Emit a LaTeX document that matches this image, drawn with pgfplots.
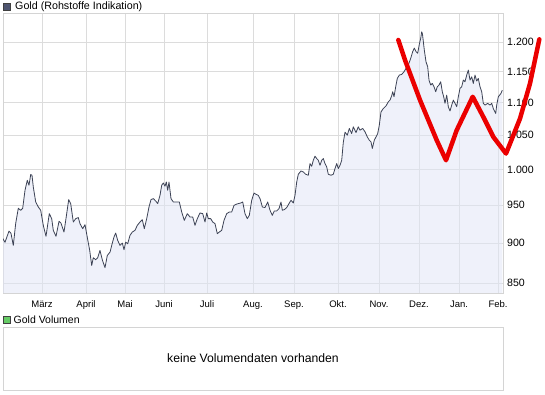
\documentclass[border=0pt]{standalone}
\usepackage{fontspec}
\setmainfont{Liberation Sans}
\usepackage{pgfplots}
\usepackage{pgfplotstable}
\pgfplotsset{compat=1.18}
\definecolor{gridc}{RGB}{220,220,220}
\definecolor{framec}{RGB}{212,212,212}
\definecolor{linec}{RGB}{60,66,85}
\definecolor{fillc}{RGB}{225,230,245}
\definecolor{iconc}{RGB}{78,85,112}
\definecolor{greenc}{RGB}{102,204,102}
\definecolor{redc}{RGB}{235,0,0}

\pgfplotstableread{
x price
2.7 906
5 901
9 915.6
11 912.6
13.3 897
15.7 925.7
18.3 945.9
20.7 943.2
22.7 945.9
25 970.6
27.3 984.6
29 977.6
30.7 992.7
32 991.7
33.3 975.2
35.7 954.5
38.3 947.7
40.7 943.2
43.3 923.1
46 908.7
49.3 938.7
51.7 932
53.3 916.5
56 908.7
59 928.4
61 926.1
64 914.3
66.7 938.7
68.7 957.7
70.7 952.3
73.3 927.5
75.7 932
78.3 933.4
80 925.3
82.7 918.7
85 924
87.5 906
89.7 890.6
91.7 871.6
93.3 881.3
95.7 878.8
97.7 881.3
100 890.6
102.3 878.8
105 868.8
107.3 884.2
110 888.4
111.7 897
114 907.9
115.7 913
117.7 903.4
120 897
122.3 900
124 891.5
125.7 901.2
127.7 899.1
130 910
132.3 914.3
135 916.5
137.3 923.1
140 927.5
142.3 930.6
144.3 918.7
146.7 932
149 947.7
151 957.7
153.3 959.1
155.7 955.8
157.7 952.3
160 963.6
161.7 977.6
163.3 980.8
165 976.2
166.3 982.2
167.7 970.6
169 982.2
171 959.1
173.3 954.5
176 954.5
179.3 954.5
181.7 940.9
184.3 929.7
187.3 938.7
190 934.2
192.7 934.2
195 923.1
197.3 932
200 939.6
202.7 938.7
205 927.5
206.7 939.6
208.3 932
210.7 932
212.7 927.5
215 925.4
217.3 912.2
219.3 914.3
221.7 916.5
224 929.7
226.7 938.7
229.3 940.9
231.7 940.9
234 949.9
236 951.3
238.3 952.3
240.7 953.1
242.7 954.5
245 938.7
247.3 932
249.3 936.4
251.7 956.8
254 966.8
256 965
258.3 963.6
260 959.1
261 954.5
262.3 947.7
265 946.9
267.7 954.5
270 943.2
272.3 936.4
274.3 942.3
276.7 942.3
279 945.5
281 954.5
282.3 943.2
284.3 944.1
286.7 946.9
289 952.3
291 956.8
293.3 953.1
295 963.6
296.7 982.2
298.3 993.1
301 997.8
303.3 996.4
305.7 993.1
308.3 991.7
310 1008.4
311.7 1004.5
313.3 1013.2
315 1019.1
316.7 1015.7
318.3 1013.2
320 1006
321.7 1013.2
323.3 1015.7
325 1008.4
326.7 1003.5
328.3 993.1
331 991.7
333.3 993.1
335 1001.3
336.7 1008.4
338.3 1001.3
340 1006
341.7 1013.2
343.3 1039.5
345 1054.8
347.3 1050.2
349.3 1060.4
351.7 1052.7
353.3 1062.9
356 1054.2
358.3 1062.9
360 1057.8
362.7 1060.4
365 1055.3
367.3 1047.7
369.3 1042.7
371 1040.2
372.3 1030.4
374.3 1042.7
376 1047.7
377.7 1052.7
379.3 1065.4
381 1085.8
383.3 1091.1
386 1095.2
388.3 1101.5
390 1104.3
391.7 1111.2
392.7 1117.6
394 1109.6
396 1128.3
397.3 1139.1
399.3 1144.5
401.7 1145.7
404 1150
406 1155.6
408.3 1161.1
410.7 1172.3
412.7 1183.7
414.3 1189.6
416 1183.7
417.7 1180.9
419.3 1196
420.7 1206.4
421.7 1217.8
422.5 1213.3
424.3 1186.3
426 1166.5
427.7 1158.1
429 1136.4
430.7 1128.3
432.3 1131
434 1125.6
435.7 1117.6
437.3 1125.6
439 1128.3
440.7 1133.7
442.3 1117.6
443.7 1109.6
445 1099.2
446.7 1112.2
448.3 1093.9
450 1087.2
451.7 1096.4
453.3 1104.3
455 1099.2
456.7 1093.9
458.3 1109.6
460 1123
461.7 1125.6
463.3 1136.4
465 1133.7
466.7 1144.5
468.3 1152.8
470 1136.4
471.7 1141.8
473.3 1131
475 1144.5
476.7 1134.8
478.3 1139.1
480 1125.6
481.7 1117.6
483.3 1099.2
485 1096.4
487.7 1099.2
490 1096.4
491.7 1099.2
493.3 1091.1
495.7 1083.4
496.7 1096.4
498.3 1109.6
501 1115
502.3 1120.2
}\golddata

\pgfplotstableread{
x price
398.3 1203.4
405 1169.4
420 1104.3
436.7 1042.7
446 1013.2
456.7 1057.8
472.7 1109.6
483.3 1078.1
493.3 1047.7
506 1023
520 1075.5
530 1131
539.3 1204.6
}\reddata

\begin{document}
\begin{tikzpicture}
\useasboundingbox (0pt,0pt) rectangle (545pt,395pt);
\begin{axis}[
  at={(3pt,102pt)}, anchor=south west,
  scale only axis, width=500pt, height=280pt,
  xmin=3, xmax=503, ymode=log, ymin=838, ymax=1251,
  axis line style={draw=framec},
  xtick={42,86,125,164,207,253,294,338,379,419,459,498},
  xticklabels={März,April,Mai,Juni,Juli,Aug.,Sep.,Okt.,Nov.,Dez.,Jan.,Feb.},
  ytick={850,900,950,1000,1050,1100,1150,1200},
  yticklabels={850,900,950,1.000,1.050,1.100,1.150,1.200},
  yticklabel pos=right,
  major tick length=0pt, minor tick length=0pt,
  xmajorgrids, ymajorgrids,
  grid style={draw=gridc, line width=0.9pt},
  xticklabel style={font=\fontsize{9.5}{10}\selectfont, anchor=base, inner sep=0pt, yshift=-14.4pt},
  yticklabel style={font=\fontsize{10.6}{11}\selectfont, anchor=west, inner sep=0pt, xshift=4pt},
]
\addplot[draw=none, fill=fillc, fill opacity=0.55] table[x=x, y=price] {\golddata} \closedcycle;
\addplot[color=linec, line width=0.8pt, line join=round] table[x=x, y=price] {\golddata};
\end{axis}
\begin{axis}[
  at={(3pt,102pt)}, anchor=south west,
  scale only axis, width=500pt, height=280pt,
  xmin=3, xmax=503, ymode=log, ymin=838, ymax=1251,
  hide axis, clip=false,
]
\addplot[color=redc, line width=4.5pt, line join=round, line cap=round] table[x=x, y=price] {\reddata};
\end{axis}
% title legend
\filldraw[fill=iconc, draw=black!75, line width=0.6pt] (3.5pt,385pt) rectangle (10.5pt,392pt);
\node[anchor=west, inner sep=0pt, font=\fontsize{10.7}{11}\selectfont] at (15pt,388.5pt) {Gold (Rohstoffe Indikation)};
% volume panel
\filldraw[fill=greenc, draw=black!75, line width=0.6pt] (3.5pt,71.5pt) rectangle (10.5pt,78.5pt);
\node[anchor=west, inner sep=0pt, font=\fontsize{10.5}{11}\selectfont] at (13.5pt,75pt) {Gold Volumen};
\draw[framec, line width=0.9pt] (3pt,5pt) rectangle (503pt,68pt);
\node[inner sep=0pt, font=\fontsize{12.2}{13}\selectfont] at (253pt,37pt) {keine Volumendaten vorhanden};
\end{tikzpicture}
\end{document}
